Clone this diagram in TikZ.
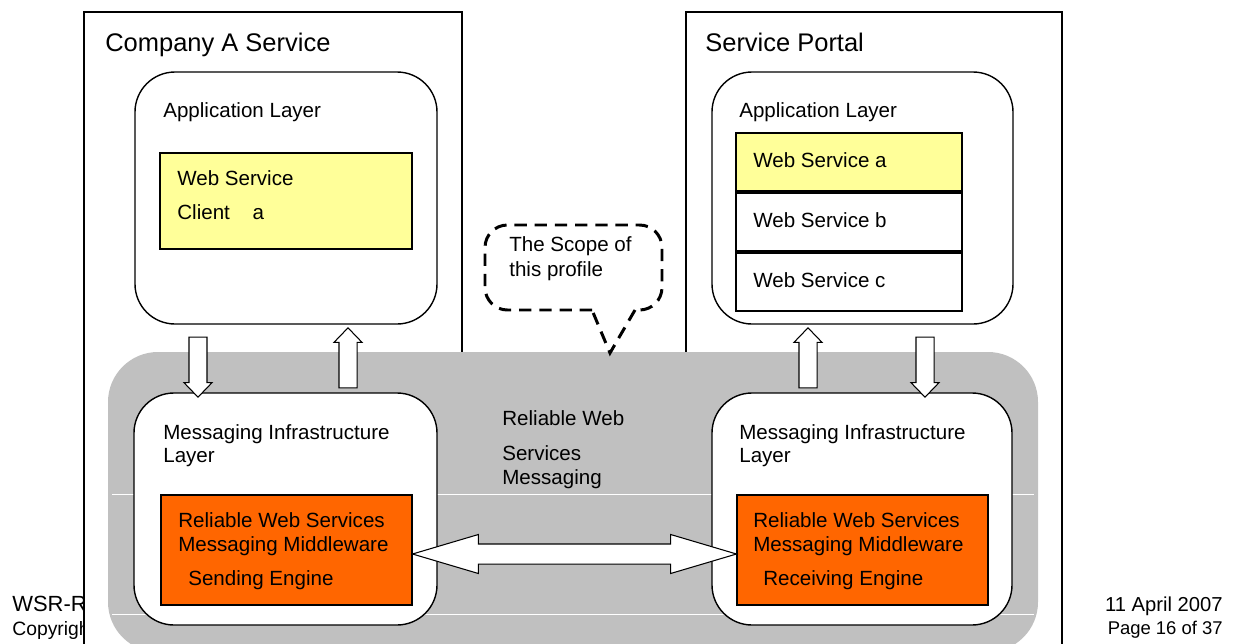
\documentclass[tikz,border=0pt]{standalone}
\usepackage{fontspec}
\setmainfont{Liberation Sans}
\usetikzlibrary{shapes.arrows, fit, calc}

\definecolor{paleyellow}{HTML}{FFFF99}
\definecolor{engineorange}{HTML}{FF6600}
\definecolor{bandgray}{HTML}{C0C0C0}

\tikzset{
  outerbox/.style={draw, fill=white, line width=0.8pt, inner sep=0pt},
  layerbox/.style={draw, fill=white, line width=0.8pt, rounded corners=0.8cm, inner sep=0pt},
  wsbox/.style={draw, line width=0.8pt, inner sep=0pt},
  txt/.style={anchor=base west, inner sep=0pt, font=\fontsize{11.7}{14}\selectfont},
  updown/.style={single arrow, draw, fill=white, line width=0.6pt, inner sep=0.17cm,
    minimum height=1.2cm, single arrow head extend=0.1cm, single arrow tip angle=88},
  callout/.style={line width=1.7pt, dash pattern=on 7pt off 4.5pt}
}

\begin{document}
\begin{tikzpicture}[x=0.02cm, y=-0.02cm]
  \clip (0,0) rectangle (1235,643);
  \useasboundingbox (0,0) rectangle (1235,643);

  % footer, partly hidden behind the service box
  \node[txt, font=\fontsize{12.5}{15}\selectfont] (wsr) at (12,611) {WSR-RM};
  \node[txt, font=\fontsize{11}{13}\selectfont] (copyr) at (12,635) {Copyright};
  \node[anchor=base east, inner sep=0pt, font=\fontsize{11.5}{14}\selectfont] (date) at (1223,611) {11 April 2007};
  \node[anchor=base east, inner sep=0pt, font=\fontsize{10.5}{13}\selectfont] (page) at (1223,634) {Page 16 of 37};

  % the two services
  \node[outerbox, fit={(84,12) (462,670)}] (compA) {};
  \node[outerbox, fit={(686,12) (1062,670)}] (portal) {};
  \node[txt, font=\fontsize{14.5}{17}\selectfont] (compAname) at (105,51) {Company A Service};
  \node[txt, font=\fontsize{14.5}{17}\selectfont] (portalname) at (705,51) {Service Portal};

  % reliable messaging band
  \node[fill=bandgray, rounded corners=1cm, inner sep=0pt, fit={(108,352) (1038,652)}] (rwsm) {};
  \draw[white, line width=0.4pt] (112,494) -- (1034,494);
  \draw[white, line width=0.4pt] (112,614) -- (1034,614);
  \node[txt] (rwsm1) at (502,425) {Reliable Web};
  \node[txt] (rwsm2) at (502,460) {Services};
  \node[txt] (rwsm3) at (502,484) {Messaging};

  % application layers
  \node[layerbox, fit={(135,72) (437,324)}] (appA) {};
  \node[layerbox, fit={(712,72) (1013,324)}] (appP) {};
  \node[txt] (appAname) at (163,117) {Application Layer};
  \node[txt] (appPname) at (739,117) {Application Layer};
  \node[wsbox, fill=paleyellow, fit={(160,153) (412,249)}] (client) {};
  \node[txt] (client1) at (177,185) {Web Service};
  \node[txt] (client2) at (177,219) {Client\hspace{13pt}a};
  \foreach \n/\t/\c in {a/133/paleyellow, b/193/white, c/253/white} {
    \node[wsbox, fill=\c, fit={(736,\t) (962,\t+58)}] (ws\n) {};
    \node[txt] (ws\n name) at (753,\t+34) {Web Service \n};
  }

  % messaging infrastructure layers
  \node[layerbox, fit={(134,393) (437,625)}] (msgA) {};
  \node[layerbox, fit={(712,393) (1012,625)}] (msgP) {};
  \node[txt] (msgA1) at (163,439) {Messaging Infrastructure};
  \node[txt] (msgA2) at (163,462) {Layer};
  \node[txt] (msgP1) at (739,439) {Messaging Infrastructure};
  \node[txt] (msgP2) at (739,462) {Layer};
  \node[wsbox, fill=engineorange, fit={(161,495) (412,605)}] (engA) {};
  \node[wsbox, fill=engineorange, fit={(737,495) (988,605)}] (engP) {};
  \node[txt] (engA1) at (178,527) {Reliable Web Services};
  \node[txt] (engA2) at (178,551) {Messaging Middleware};
  \node[txt] (engA3) at (188,585) {Sending Engine};
  \node[txt] (engP1) at (753,527) {Reliable Web Services};
  \node[txt] (engP2) at (753,551) {Messaging Middleware};
  \node[txt] (engP3) at (763,585) {Receiving Engine};

  % flows between the layers
  \foreach \x/\r in {198/270, 348/90, 808/90, 925/270}
    \node[updown, shape border rotate=\r] (flow\x) at (\x,362.5) {};
  \node[double arrow, draw, fill=white, line width=0.6pt, inner sep=0.19cm,
    minimum height=6.48cm, double arrow head extend=0.19cm, double arrow tip angle=33]
    (link) at ($(engA.east)!.5!(engP.west) + (0,4)$) {};

  % scope callout
  \draw[callout, rounded corners=0.45cm] (592,310) -- (485,310) -- (485,225) -- (662,225) -- (662,310) -- (635,310);
  \draw[callout] (635,310) -- (610,353) -- (592,310);
  \node[txt] (scope1) at (509,251) {The Scope of};
  \node[txt] (scope2) at (509,276) {this profile};
\end{tikzpicture}
\end{document}
